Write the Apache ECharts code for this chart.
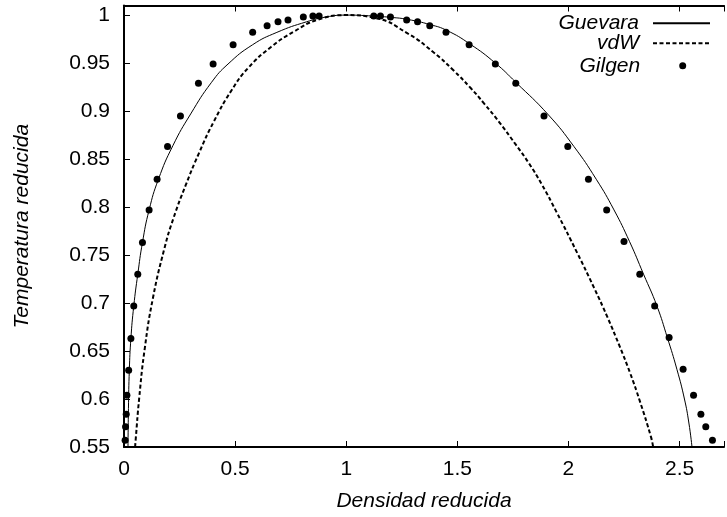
<!DOCTYPE html>
<html>
<head>
<meta charset="utf-8">
<script src="https://cdn.jsdelivr.net/npm/echarts@6/dist/echarts.min.js"></script>
<style>
html,body{margin:0;padding:0;background:#fff;}
#chart{width:727px;height:517px;}
</style>
</head>
<body>
<div id="chart"></div>
<script>
// ---- data ----
const xTicks = [0, 0.5, 1, 1.5, 2, 2.5];
const yTicks = [0.55, 0.6, 0.65, 0.7, 0.75, 0.8, 0.85, 0.9, 0.95, 1];

// Guevara (solid line): reduced density / reduced temperature
const guevaraRho = [0.018, 0.020, 0.024, 0.031, 0.044, 0.062, 0.083, 0.113, 0.155, 0.220, 0.300, 0.394, 0.468, 0.578, 0.688, 0.821, 0.909, 1.000,
                    1.100, 1.203, 1.276, 1.379, 1.453, 1.556, 1.671, 1.763, 1.910, 2.025, 2.125, 2.205, 2.275, 2.338, 2.398, 2.445, 2.488, 2.522, 2.542, 2.556];
const guevaraT   = [0.550, 0.590, 0.630, 0.663, 0.697, 0.730, 0.763, 0.797, 0.829, 0.864, 0.897, 0.930, 0.949, 0.969, 0.982, 0.993, 0.998, 1.000,
                    0.9993, 0.9976, 0.9955, 0.990, 0.984, 0.970, 0.950, 0.930, 0.896, 0.863, 0.829, 0.797, 0.764, 0.730, 0.697, 0.664, 0.631, 0.600, 0.575, 0.550];

// vdW (dashed line)
const vdwRho = [0.050, 0.053, 0.068, 0.093, 0.130, 0.182, 0.222, 0.278, 0.337, 0.404, 0.485, 0.559, 0.663, 0.766, 0.870, 1.000,
                1.130, 1.276, 1.394, 1.480, 1.560, 1.620, 1.690, 1.760, 1.821, 1.879, 1.946, 2.040, 2.115, 2.174, 2.232, 2.276, 2.321, 2.372, 2.381];
const vdwT   = [0.550, 0.559, 0.600, 0.652, 0.705, 0.757, 0.788, 0.823, 0.856, 0.889, 0.922, 0.945, 0.967, 0.983, 0.995, 1.000,
                0.997, 0.981, 0.961, 0.943, 0.924, 0.908, 0.888, 0.866, 0.846, 0.824, 0.795, 0.752, 0.716, 0.686, 0.654, 0.628, 0.598, 0.560, 0.550];

// Gilgen (points)
const gilgenRho = [0.005, 0.007, 0.010, 0.013, 0.021, 0.031, 0.044, 0.062, 0.083, 0.113, 0.149, 0.196, 0.254, 0.335, 0.401, 0.491, 0.579, 0.644, 0.693, 0.738, 0.807, 0.850, 0.878,
                   1.124, 1.154, 1.199, 1.272, 1.321, 1.376, 1.449, 1.553, 1.671, 1.763, 1.890, 1.997, 2.090, 2.172, 2.250, 2.321, 2.388, 2.453, 2.516, 2.563, 2.596, 2.618, 2.648];
const gilgenT   = [0.557, 0.571, 0.584, 0.604, 0.630, 0.663, 0.697, 0.730, 0.763, 0.797, 0.829, 0.863, 0.895, 0.929, 0.949, 0.969, 0.982, 0.989, 0.993, 0.995, 0.998, 0.999, 0.999,
                   0.999, 0.999, 0.998, 0.995, 0.993, 0.989, 0.982, 0.969, 0.949, 0.929, 0.895, 0.863, 0.829, 0.797, 0.764, 0.730, 0.697, 0.664, 0.631, 0.604, 0.584, 0.571, 0.557];

const zip = (a, b) => a.map((v, i) => [v, b[i]]);

const FONT = 'Liberation Sans, Arial, Helvetica, sans-serif';
const FS = 21;
const isTick = (v, list) => list.some(t => Math.abs(t - v) < 1e-6);
const legendText = pad => ({fontFamily: FONT, fontSize: FS, fontStyle: 'italic', color: '#000', lineHeight: 22, padding: [0, pad, 0, 0]});

const chart = echarts.init(document.getElementById('chart'), null, {renderer: 'canvas'});
chart.setOption({
  animation: false,
  backgroundColor: '#ffffff',
  grid: {left: 124, right: -10, top: 5.5, bottom: 68.5, containLabel: false},
  xAxis: [{
    type: 'value', min: 0, max: 2.7, interval: 0.5, position: 'bottom',
    name: 'Densidad reducida', nameLocation: 'middle', nameGap: 44,
    nameTextStyle: {fontFamily: FONT, fontSize: FS, fontStyle: 'italic', color: '#000'},
    axisLine: {show: true, onZero: false, lineStyle: {color: '#000', width: 2}},
    axisTick: {show: true, inside: true, length: 6, lineStyle: {color: '#000', width: 1}},
    axisLabel: {margin: 12, fontFamily: FONT, fontSize: FS, color: '#000',
      formatter: v => isTick(v, xTicks) ? String(+v.toFixed(2)) : ''},
    splitLine: {show: false}
  }, {
    type: 'value', min: 0, max: 2.7, interval: 0.5, position: 'top',
    axisLine: {show: true, onZero: false, lineStyle: {color: '#000', width: 2}},
    axisTick: {show: true, inside: true, length: 6, lineStyle: {color: '#000', width: 1}},
    axisLabel: {show: false}, splitLine: {show: false}
  }],
  yAxis: [{
    type: 'value', min: 0.55, max: 1.01, interval: 0.05,
    name: 'Temperatura reducida', nameLocation: 'middle', nameGap: 91,
    nameTextStyle: {fontFamily: FONT, fontSize: FS, fontStyle: 'italic', color: '#000'},
    axisLine: {show: true, onZero: false, lineStyle: {color: '#000', width: 2}},
    axisTick: {show: true, inside: true, length: 6, lineStyle: {color: '#000', width: 1}},
    axisLabel: {margin: 14, fontFamily: FONT, fontSize: FS, color: '#000',
      formatter: v => isTick(v, yTicks) ? String(+v.toFixed(2)) : ''},
    splitLine: {show: false}
  }],
  legend: [{
    data: ['Guevara'], orient: 'vertical', align: 'right',
    right: 16, top: 12.3, itemWidth: 57, itemHeight: 10, padding: 0,
    itemStyle: {opacity: 0}, textStyle: legendText(9)
  }, {
    data: ['vdW'], orient: 'vertical', align: 'right',
    right: 16, top: 32.3, itemWidth: 57, itemHeight: 10, padding: 0,
    itemStyle: {opacity: 0}, textStyle: legendText(9)
  }, {
    data: ['Gilgen'], orient: 'vertical', align: 'right',
    right: 40.8, top: 54.7, itemWidth: 7, itemHeight: 7, padding: 0,
    itemStyle: {opacity: 1}, textStyle: legendText(34)
  }],
  series: [{
    name: 'Guevara', type: 'line', data: zip(guevaraRho, guevaraT),
    symbol: 'none', smooth: 0.5, clip: true,
    lineStyle: {color: '#000', width: 1}, itemStyle: {color: '#000'}
  }, {
    name: 'vdW', type: 'line', data: zip(vdwRho, vdwT),
    symbol: 'none', smooth: 0.5, clip: true,
    lineStyle: {color: '#000', width: 2, type: [4, 2.5]}, itemStyle: {color: '#000'}
  }, {
    name: 'Gilgen', type: 'scatter', data: zip(gilgenRho, gilgenT),
    symbol: 'circle', symbolSize: 7, clip: true,
    itemStyle: {color: '#000', opacity: 1}
  }]
});
</script>
</body>
</html>
